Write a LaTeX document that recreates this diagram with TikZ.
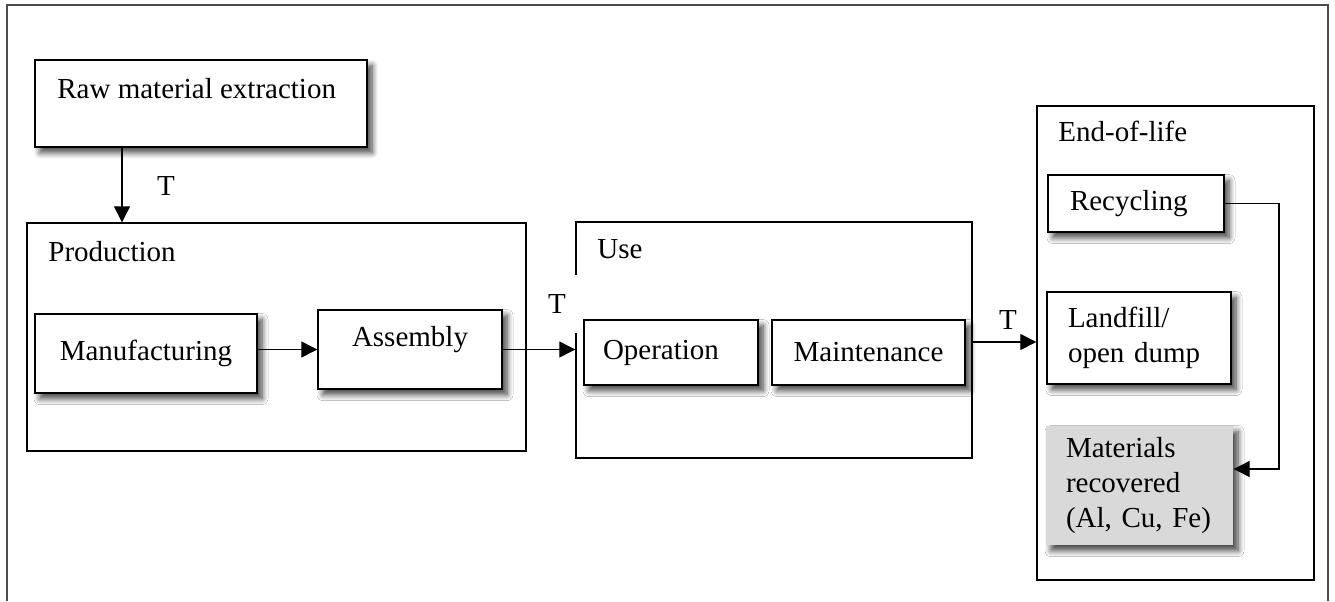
\documentclass[tikz,border=0pt]{standalone}
\usepackage{fontspec}
\setmainfont{Liberation Serif}
\usetikzlibrary{arrows.meta,shadows.blur,calc}

\begin{document}
\begin{tikzpicture}[x=0.5pt,y=-0.5pt,
  font=\fontsize{14.5}{17.5}\selectfont,
  frame/.style={draw=black!70,line width=1pt},
  group/.style={draw=black,line width=0.7pt,fill=white,inner sep=0pt},
  stepbox/.style={draw=black,line width=0.7pt,fill=white,inner sep=0pt,
    blur shadow={shadow xshift=2.5pt,shadow yshift=-2.8pt,
      shadow blur radius=3pt,shadow blur steps=8,shadow opacity=75}},
  leftbox/.style={stepbox,align=left,inner ysep=0pt},
  txt/.style={inner sep=0pt},
  tlab/.style={inner sep=0pt},
  arr/.style={draw=black,line width=0.6pt,-{Triangle[length=8pt,width=8pt]}}
]
\useasboundingbox (0,0) rectangle (1335,601);

% outer frame (open at the bottom)
\draw[frame] (7,601) -- (7,5) -- (1328,5) -- (1328,601);

% raw material extraction
\node[stepbox,minimum width=166pt,minimum height=43.5pt] (raw) at (201,103.5) {};
\node[txt,anchor=base west] (rawt) at (57,98) {Raw material extraction};

% production stage
\node[group,minimum width=249.5pt,minimum height=114pt] (prod) at (276.5,337) {};
\node[txt,anchor=base west] (prodt) at (48,261) {Production};
\node[stepbox,minimum width=111pt,minimum height=39.5pt] (manu) at (146,353.5) {Manufacturing};
\node[stepbox,minimum width=92pt,minimum height=39.5pt] (asm) at (410,349.5) {};
\node[txt] (asmt) at (410,340) {Assembly};

% use stage
\node[group,minimum width=198pt,minimum height=118pt] (use) at (774,340) {};
\node[txt,anchor=base west] (uset) at (597,258) {Use};
\node[leftbox,text width=68pt,inner xsep=9.5pt,minimum height=32.5pt] (oper) at (671,352.5) {Operation};
\node[stepbox,minimum width=96.5pt,minimum height=32.5pt] (maint) at (868.5,352.5) {Maintenance};

% end-of-life stage
\node[group,minimum width=138.5pt,minimum height=237pt] (eol) at (1175.5,343) {};
\node[txt,anchor=base west] (eolt) at (1058,141) {End-of-life};
\node[leftbox,text width=66pt,inner xsep=11pt,minimum height=28.5pt] (recyc) at (1136,203.5) {Recycling};
\node[leftbox,text width=71pt,inner xsep=10.5pt,minimum height=46pt] (landf) at (1139,338) {Landfill/\\open dump};
\node[leftbox,draw=none,fill={rgb,255:red,217;green,217;blue,217},text width=73.5pt,inner xsep=10pt,minimum height=59.5pt] (mater) at (1139.5,485.5) {Materials\\recovered\\(Al, Cu, Fe)};

% connectors
\coordinate (rawx) at (122,0);
\coordinate (eoly) at (0,342);
\coordinate (loop) at (1279,469);
\draw[arr] (raw.south -| rawx) -- (prod.north -| rawx);
\draw[arr] (manu.east |- asm.west) -- (asm.west);
\draw[arr] (asm.east) -- (asm.east -| use.west);
\draw[arr] (use.east |- eoly) -- (eol.west |- eoly);
\draw[arr] (recyc.east) -| (loop) -- (mater.east |- loop);

% transport labels
\node[tlab,fill=white,minimum width=20pt,minimum height=27pt] (t1) at (166,186) {T};
\node[tlab,fill=white,minimum width=20pt,minimum height=29pt] (t2) at (557,304) {T};
\node[tlab] (t3) at (1008,320) {T};
\end{tikzpicture}
\end{document}
